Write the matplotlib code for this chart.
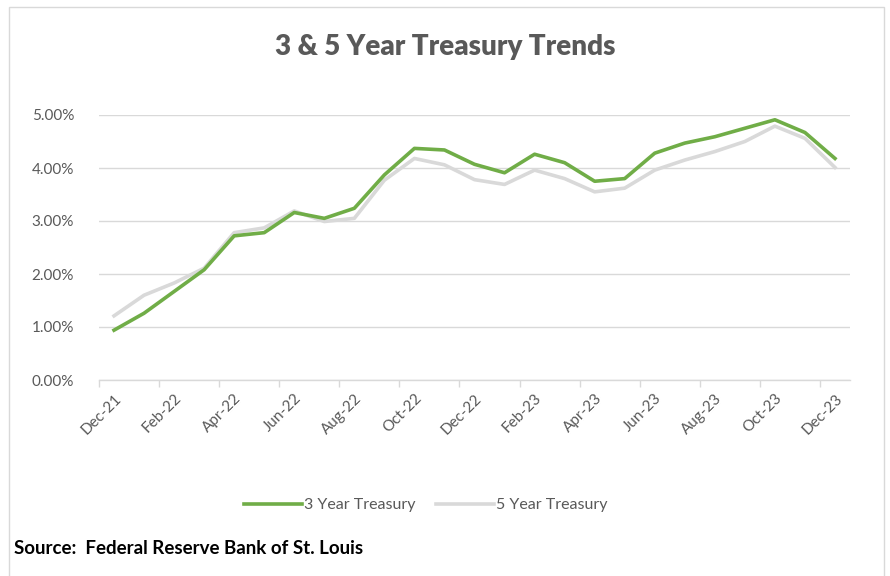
import matplotlib
matplotlib.use("Agg")
import matplotlib.pyplot as plt
from matplotlib.patches import Rectangle
from matplotlib.ticker import FuncFormatter

plt.rcParams['font.family'] = ['Lato', 'DejaVu Sans']

# monthly yields, Dec-21 .. Dec-23 (percent)
months = ["Dec-21", "Jan-22", "Feb-22", "Mar-22", "Apr-22", "May-22", "Jun-22",
          "Jul-22", "Aug-22", "Sep-22", "Oct-22", "Nov-22", "Dec-22", "Jan-23",
          "Feb-23", "Mar-23", "Apr-23", "May-23", "Jun-23", "Jul-23", "Aug-23",
          "Sep-23", "Oct-23", "Nov-23", "Dec-23"]
three_year = [0.94, 1.26, 1.67, 2.08, 2.72, 2.78, 3.16, 3.05, 3.24, 3.87, 4.37,
              4.34, 4.07, 3.91, 4.26, 4.10, 3.75, 3.80, 4.28, 4.47, 4.59, 4.75,
              4.91, 4.67, 4.18]
five_year = [1.21, 1.60, 1.83, 2.11, 2.78, 2.87, 3.19, 2.99, 3.05, 3.77, 4.18,
             4.06, 3.78, 3.69, 3.96, 3.80, 3.55, 3.62, 3.96, 4.15, 4.31, 4.50,
             4.79, 4.56, 4.01]

green = "#70AD47"
grey = "#D9D9D9"
txt = "#595959"

fig = plt.figure(figsize=(8.9, 5.76), dpi=100)
fig.patch.set_facecolor("white")

# chart border
fig.patches.append(Rectangle((9 / 890, -0.01), 875 / 890, 1 - 7 / 576 + 0.01,
                             transform=fig.transFigure, fill=False,
                             edgecolor="#D9D9D9", linewidth=1))

ax = fig.add_axes([99 / 890, 1 - 380 / 576, (850 - 99) / 890, (380 - 115) / 576])

x = list(range(len(months)))
ax.plot(x, five_year, color=grey, linewidth=2.6, label="5 Year Treasury",
        solid_joinstyle="round", zorder=3)
ax.plot(x, three_year, color=green, linewidth=2.6, label="3 Year Treasury",
        solid_joinstyle="round", zorder=4)

ax.set_xlim(-0.5, len(months) - 0.5)
ax.set_ylim(0, 5)
ax.set_yticks([0, 1, 2, 3, 4, 5])
ax.yaxis.set_major_formatter(FuncFormatter(lambda v, p: f"{v:.2f}%"))
ax.grid(axis="y", color=grey, linewidth=1)
ax.set_axisbelow(True)

ax.set_xticks(x[::2])
ax.set_xticklabels(months[::2], rotation=45, ha="right", rotation_mode="anchor")
ax.set_xticks([i - 0.5 for i in x[::2]], minor=True)
ax.tick_params(axis="x", which="major", length=0, pad=8, labelsize=11, labelcolor=txt)
ax.tick_params(axis="x", which="minor", length=5, color=grey, width=1)
ax.tick_params(axis="y", length=0, pad=18, labelsize=11, labelcolor=txt)

for s in ["top", "right", "left"]:
    ax.spines[s].set_visible(False)
ax.spines["bottom"].set_color(grey)
ax.spines["bottom"].set_linewidth(1)

fig.text(0.5, 1 - 47 / 576, "3 & 5 Year Treasury Trends", ha="center",
         va="center", fontsize=20, fontweight="heavy", color=txt)

handles, labels = ax.get_legend_handles_labels()
fig.legend(handles[::-1], labels[::-1], loc="center", ncol=2,
           bbox_to_anchor=(426 / 890, 1 - 505 / 576), frameon=False,
           fontsize=11.5, labelcolor=txt, handlelength=3.6, handletextpad=0.15,
           columnspacing=1.3)

fig.text(14 / 890, 1 - 548 / 576, "Source:  Federal Reserve Bank of St. Louis",
         ha="left", va="center", fontsize=13.5, fontweight="bold", color="black")

fig.savefig("out.png", dpi=100)
